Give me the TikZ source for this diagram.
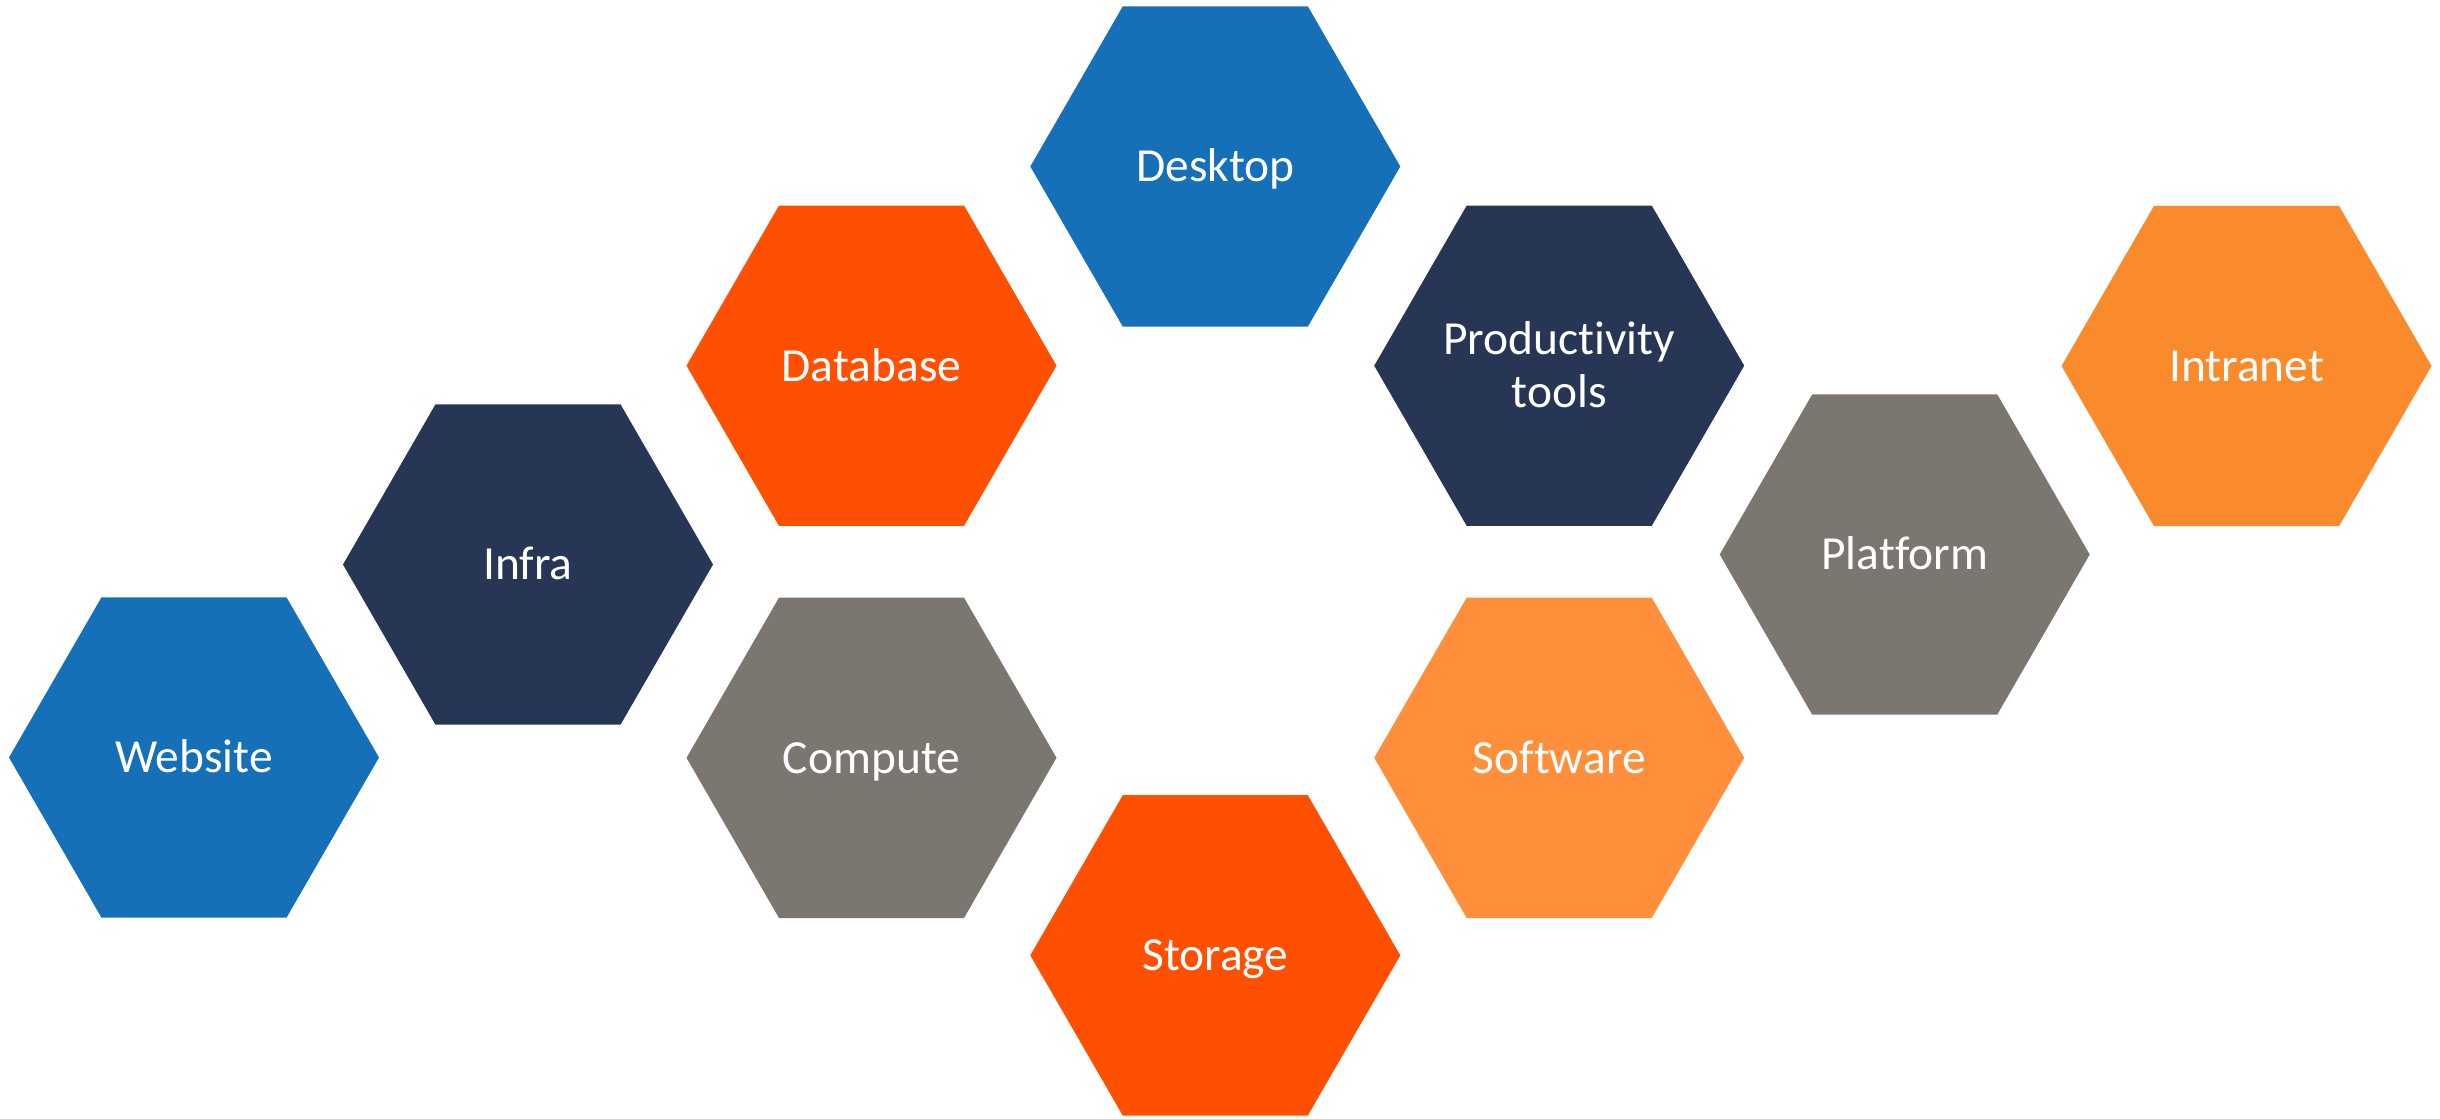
\documentclass[tikz,border=0pt]{standalone}
\usepackage{fontspec}
\setmainfont{Carlito}[Ligatures=NoCommon]
\definecolor{cblue}{HTML}{1570B8}
\definecolor{cnavy}{HTML}{283655}
\definecolor{cred}{HTML}{FF4F00}
\definecolor{cgrey}{HTML}{7C7671}
\definecolor{corange}{HTML}{FF8F3A}
\definecolor{corangeb}{HTML}{F98B2D}
\tikzset{
  hexlabel/.style={text=white, align=center, inner sep=0pt, text height=8.7pt, text depth=0pt, font=\fontsize{13.5}{15.1}\selectfont},
}
\newcommand\hexcell[6][]{%
  \fill[#4, shift={(#2,#3)}] (-185,0) -- (-92.5,-160.2) -- (92.5,-160.2) -- (185,0) -- (92.5,160.2) -- (-92.5,160.2) -- cycle;
  \node[hexlabel,#1] (#5) at (#2,#3) {#6};
}
\begin{document}
\begin{tikzpicture}[x=0.01cm,y=-0.01cm]
\useasboundingbox (0,0) rectangle (2440,1118);
\hexcell{194}{757.5}{cblue}{website}{Website}
\hexcell{528}{564.5}{cnavy}{infra}{Infra}
\hexcell{871.5}{365.7}{cred}{database}{Database}
\hexcell{871.5}{757.8}{cgrey}{compute}{Compute}
\hexcell{1215.3}{166.5}{cblue}{desktop}{Desktop}
\hexcell{1215.3}{955.4}{cred}{storage}{Storage}
\hexcell[yshift=-0.265cm]{1559.2}{365.7}{cnavy}{productivity}{Productivity\\tools}
\hexcell{1559.2}{757.8}{corange}{software}{Software}
\hexcell{1904.7}{554.5}{cgrey}{platform}{Platform}
\hexcell{2246.5}{366}{corangeb}{intranet}{Intranet}
\end{tikzpicture}
\end{document}
